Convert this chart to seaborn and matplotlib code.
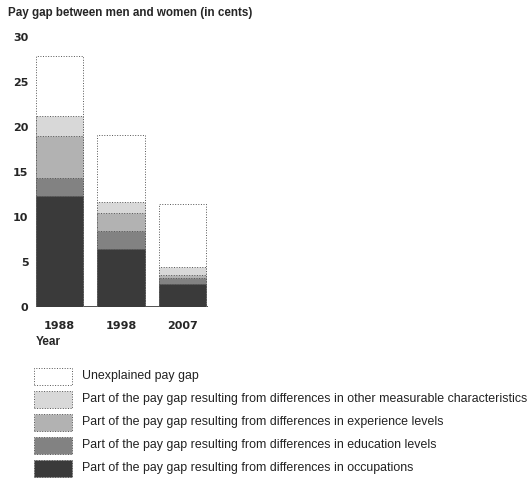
import numpy as np
import pandas as pd
import matplotlib
matplotlib.use("Agg")
import matplotlib.pyplot as plt
import seaborn as sns

# ---------------------------
# Data (cents)
# ---------------------------
years = ["1988", "1998", "2007"]
occupations = [12.3, 6.4, 2.6]
education = [2.0, 2.1, 0.6]
experience = [4.7, 2.0, 0.4]
other = [2.2, 1.2, 0.8]
unexplained = [6.7, 7.4, 7.0]

labels = [
    "Unexplained pay gap",
    "Part of the pay gap resulting from differences in other measurable characteristics",
    "Part of the pay gap resulting from differences in experience levels",
    "Part of the pay gap resulting from differences in education levels",
    "Part of the pay gap resulting from differences in occupations",
]
colors = ["#ffffff", "#d8d8d8", "#b2b2b2", "#828282", "#3a3a3a"]

# layers top -> bottom, drawn as cumulative bars
layers = [unexplained, other, experience, education, occupations]
bottom_up = np.array(layers[::-1])
cum = np.cumsum(bottom_up, axis=0)[::-1]  # cum[0] = total

sns.set_style("white")
plt.rcParams["font.family"] = ["Liberation Sans", "DejaVu Sans"]

W, H = 528, 484
fig = plt.figure(figsize=(W / 100, H / 100), dpi=100)
ax = fig.add_axes([36 / W, (H - 307) / H, 172 / W, 270 / H])

for i, lab in enumerate(labels):
    df = pd.DataFrame({"year": years, "val": cum[i]})
    sns.barplot(data=df, x="year", y="val", color=colors[i], width=0.77,
                edgecolor="#555555", linewidth=0.7, linestyle=":",
                saturation=1, ax=ax)

ax.axhline(0, color="#333333", lw=1.2, zorder=0.5)
ax.set_xlim(-0.385, 2.42)
ax.set_ylim(0, 30)
ax.set_yticks(range(0, 31, 5))
ax.set_xlabel("")
ax.set_ylabel("")
sns.despine(ax=ax, left=True, bottom=True)
ax.tick_params(length=0, labelsize=8)
ax.tick_params(axis="y", pad=5.5)
ax.tick_params(axis="x", pad=10)
for t in ax.get_xticklabels() + ax.get_yticklabels():
    t.set_fontweight("bold")
    t.set_family("DejaVu Sans")

fig.text(8 / W, 1 - 13 / H, "Pay gap between men and women (in cents)",
         fontsize=8.4, fontweight="bold", va="center", ha="left")
fig.text(36 / W, 1 - 342 / H, "Year", fontsize=8.5, fontweight="bold",
         va="center", ha="left")

# legend drawn by hand: boxes + labels, rows 23 px apart
for i, lab in enumerate(labels):
    yc = 376 + 23 * i
    fig.patches.append(plt.Rectangle((34 / W, 1 - (yc + 8.5) / H), 38 / W, 17 / H,
                                     transform=fig.transFigure, facecolor=colors[i],
                                     edgecolor="#555555", linewidth=0.7, linestyle=":"))
    fig.text(82 / W, 1 - yc / H, lab, fontsize=8.9, va="center", ha="left",
             color="#222222")

fig.savefig("out.png", dpi=100)
